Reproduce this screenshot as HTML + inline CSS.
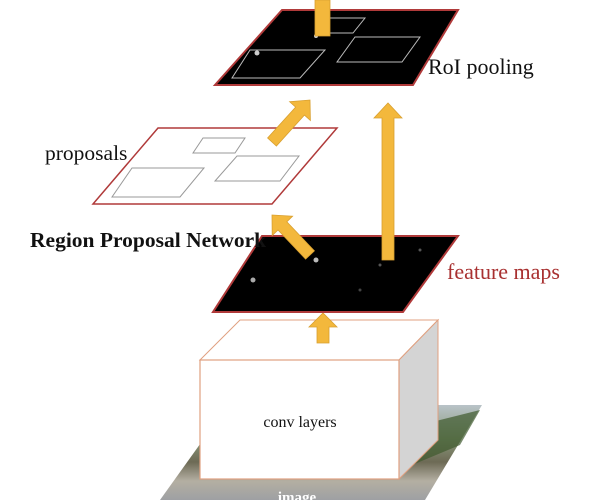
<!DOCTYPE html>
<html><head><style>
html,body{margin:0;padding:0;background:#fff;width:608px;height:500px;overflow:hidden}
svg{display:block}
text{font-family:"Liberation Serif",serif}
</style></head><body>
<svg width="608" height="500" viewBox="0 0 608 500" xmlns="http://www.w3.org/2000/svg">
<defs>
<linearGradient id="img" x1="0" y1="0" x2="0" y2="1">
<stop offset="0" stop-color="#b9c3c8"/>
<stop offset="0.35" stop-color="#8a9a7c"/>
<stop offset="0.6" stop-color="#6d6a55"/>
<stop offset="0.8" stop-color="#b4afa2"/>
<stop offset="1" stop-color="#9ea0a3"/>
</linearGradient>
</defs>
<polygon points="228,405 482,405 425,500 160,500" fill="url(#img)"/>
<polygon points="400,430 480,410 460,445 400,470" fill="#3f5a2e" opacity="0.7"/>
<polygon points="200,360 240,320 438,320 399,360" fill="#fff" stroke="#e0a080" stroke-width="1"/>
<polygon points="399,360 438,320 438,440 399,479" fill="#d4d4d4" stroke="#e0a080" stroke-width="1"/>
<rect x="200" y="360" width="199" height="119" fill="#fff" stroke="#e0a080" stroke-width="1.2"/>
<text x="300" y="427" font-size="16" text-anchor="middle" fill="#111">conv layers</text>
<text x="297" y="502" font-size="15" font-weight="bold" text-anchor="middle" fill="#fff">image</text>
<polygon points="317,343 329,343 329,327 337,327 323,313 309,327 317,327" fill="#f3b83c" stroke="#d9a030" stroke-width="0.8"/>
<polygon points="262,236 458,236 403,312 213,312" fill="#000" stroke="#b03a3a" stroke-width="2"/>
<circle cx="316" cy="260" r="2.5" fill="#bbb"/>
<circle cx="253" cy="280" r="2.5" fill="#aaa"/>
<circle cx="380" cy="265" r="1.5" fill="#555"/>
<circle cx="420" cy="250" r="1.5" fill="#555"/>
<circle cx="360" cy="290" r="1.5" fill="#444"/>
<polygon points="158,128 337,128 272,204 93,204" fill="#fff" stroke="#b03a3a" stroke-width="1.5"/>
<polygon points="203,138 245,138 235,153 193,153" fill="none" stroke="#999" stroke-width="1"/>
<polygon points="237,156 299,156 280,181 215,181" fill="none" stroke="#999" stroke-width="1"/>
<polygon points="132,168 204,168 180,197 112,197" fill="none" stroke="#999" stroke-width="1"/>
<polygon points="282,10 458,10 413,85 215,85" fill="#000" stroke="#b03a3a" stroke-width="2"/>
<polygon points="250,50 325,50 300,78 232,78" fill="none" stroke="#bbb" stroke-width="1"/>
<polygon points="355,37 420,37 402,62 337,62" fill="none" stroke="#bbb" stroke-width="1"/>
<polygon points="330,18 365,18 353,33 318,33" fill="none" stroke="#bbb" stroke-width="1"/>
<circle cx="257" cy="53" r="2.5" fill="#ccc"/>
<circle cx="316" cy="36" r="2" fill="#ccc"/>
<polygon points="315,36 330,36 330,0 315,0" fill="#f3b83c" stroke="#d9a030" stroke-width="0.8"/>
<polygon points="382,260 394,260 394,118 402,118 388,103 374,118 382,118" fill="#f3b83c" stroke="#d9a030" stroke-width="0.8"/>
<polygon points="272,215 292.6,216.2 286.8,221.8 314.4,250.9 305.6,259.1 278,230 272.2,235.6" fill="#f3b83c" stroke="#d9a030" stroke-width="0.8"/>
<polygon points="310,100 310.4,120.5 304.4,115.1 276.4,146 267.6,138 295.6,107.1 289.6,101.7" fill="#f3b83c" stroke="#d9a030" stroke-width="0.8"/>
<text x="428" y="74" font-size="22" fill="#111">RoI pooling</text>
<text x="45" y="160" font-size="21.5" fill="#111">proposals</text>
<text x="30" y="247" font-size="21.5" font-weight="bold" fill="#111">Region Proposal Network</text>
<text x="447" y="279" font-size="22" fill="#a83030">feature maps</text>
</svg>
</body></html>
